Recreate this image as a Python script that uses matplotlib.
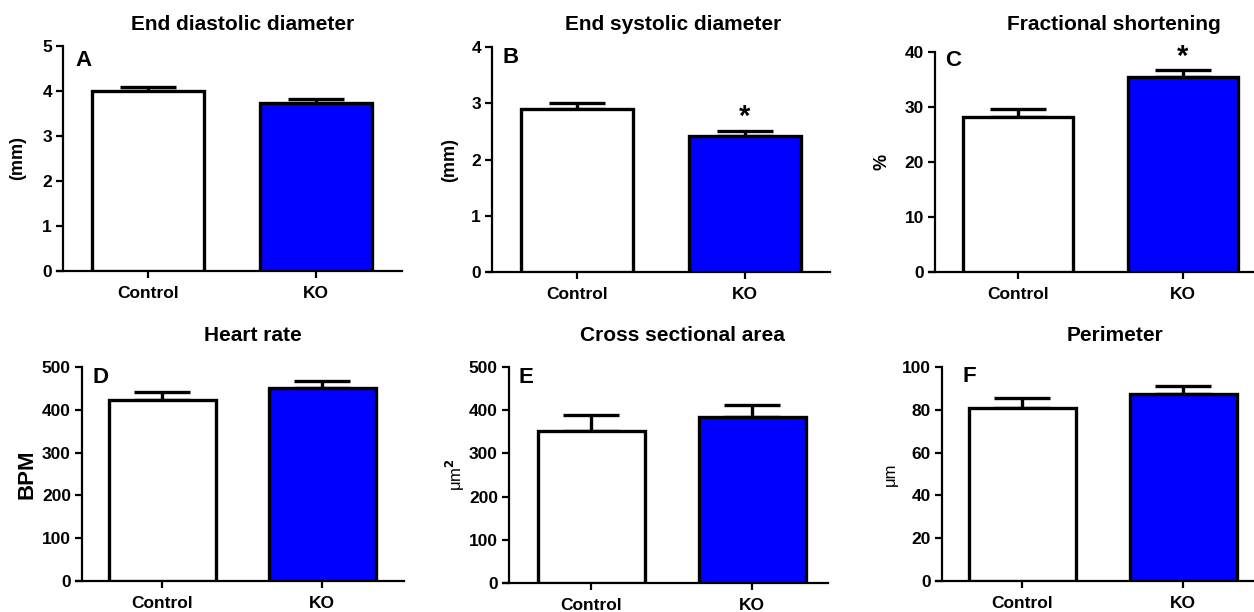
import numpy as np
import matplotlib
matplotlib.use("Agg")
from matplotlib import pyplot as plt

plt.rcParams['font.family'] = ['Liberation Sans', 'DejaVu Sans']
plt.rcParams['font.weight'] = 'bold'

# data
groups = ['Control', 'KO']
titles = ['End diastolic diameter', 'End systolic diameter', 'Fractional shortening',
          'Heart rate', 'Cross sectional area', 'Perimeter']
letters = ['A', 'B', 'C', 'D', 'E', 'F']
ylabels = ['(mm)', '(mm)', '%', 'BPM', '\u03bcm$^\\mathbf{2}$', '\u03bcm']
means = [[3.99, 3.73], [2.90, 2.42], [28.1, 35.5], [422, 451], [353, 384], [80.8, 87.2]]
sems = [[0.10, 0.09], [0.11, 0.09], [1.6, 1.2], [20, 17], [35, 29], [4.7, 3.9]]
yticks = [[0, 1, 2, 3, 4, 5], [0, 1, 2, 3, 4], [0, 10, 20, 30, 40],
          [0, 100, 200, 300, 400, 500], [0, 100, 200, 300, 400, 500],
          [0, 20, 40, 60, 80, 100]]
signif = [[False, False], [False, True], [False, True],
          [False, False], [False, False], [False, False]]
colors = ['white', '#0000ff']

# layout in pixels: x-axis start, y-axis x, x-axis end, control center, KO center,
# top, bottom, bar width, ylabel x, letter x, letter top, title center x, title y
W, H = 1254, 612
layout = [
    (57, 63, 402, 148, 316, 46, 271, 112, 18, 75, 50, 243, 25),
    (488, 492, 830, 577, 745, 47, 272, 112, 450, 502, 47, 673, 25),
    (929, 935, 1254, 1018, 1183, 52, 272, 110, 882, 945, 50, 1114, 25),
    (76, 82, 404, 162, 322, 367, 581, 107, 27, 92, 367, 253, 335),
    (503, 509, 828, 591, 752, 367, 583, 107, 455, 518, 367, 682, 335),
    (936, 942, 1254, 1022, 1183, 367, 581, 107, 890, 962, 366, 1115, 335),
]
ylabel_sizes = [13, 13, 13, 16, 12, 12]
ylabel_weights = ['bold', 'bold', 'bold', 'bold', 'normal', 'normal']

fig = plt.figure(figsize=(W / 100, H / 100), dpi=100)

for i in range(6):
    x0, ya, x1, c, k, top, bot, bw, ylx, lx, ly, tx, ty = layout[i]
    s = k - c
    ax = fig.add_axes([x0 / W, 1 - bot / H, (x1 - x0) / W, (bot - top) / H])
    xs = np.arange(len(groups))
    ax.bar(xs, means[i], width=bw / s, color=colors, edgecolor='black',
           linewidth=2.4, zorder=3)
    ax.errorbar(xs, means[i], yerr=[[0, 0], sems[i]], fmt='none', ecolor='black',
                elinewidth=2.4, capsize=20, capthick=2.4, zorder=2)
    ymax = yticks[i][-1]
    for j in range(len(groups)):
        if signif[i][j]:
            ax.text(xs[j], means[i][j] + sems[i][j] + 0.06 * ymax, '*',
                    ha='center', va='center', fontsize=21, fontweight='bold')
    ax.set_xlim((x0 - c) / s, (x1 - c) / s)
    ax.set_ylim(0, ymax)
    ax.spines['left'].set_position(('data', (ya - c) / s))
    ax.spines['left'].set_bounds(0, ymax)
    for sp in ['top', 'right']:
        ax.spines[sp].set_visible(False)
    for sp in ['left', 'bottom']:
        ax.spines[sp].set_linewidth(1.6)
    ax.set_xticks(xs)
    ax.set_xticklabels(groups, fontsize=12.5, fontweight='bold')
    ax.set_yticks(yticks[i])
    ax.set_yticklabels([str(v) for v in yticks[i]], fontsize=12.5, fontweight='bold')
    ax.tick_params(axis='both', length=5, width=1.6, pad=3)
    ax.tick_params(axis='x', pad=6)
    ax.set_ylabel(ylabels[i], fontsize=ylabel_sizes[i], fontweight=ylabel_weights[i],
                  va='center')
    ax.yaxis.set_label_coords((ylx - x0) / (x1 - x0), 0.5)
    ax.text((lx - x0) / (x1 - x0), 1 - (ly - top) / (bot - top), letters[i],
            transform=ax.transAxes, ha='left', va='top', fontsize=16, fontweight='bold')
    fig.text(tx / W, 1 - ty / H, titles[i], ha='center', va='center',
             fontsize=15, fontweight='bold')

fig.savefig('out.png', dpi=100)
